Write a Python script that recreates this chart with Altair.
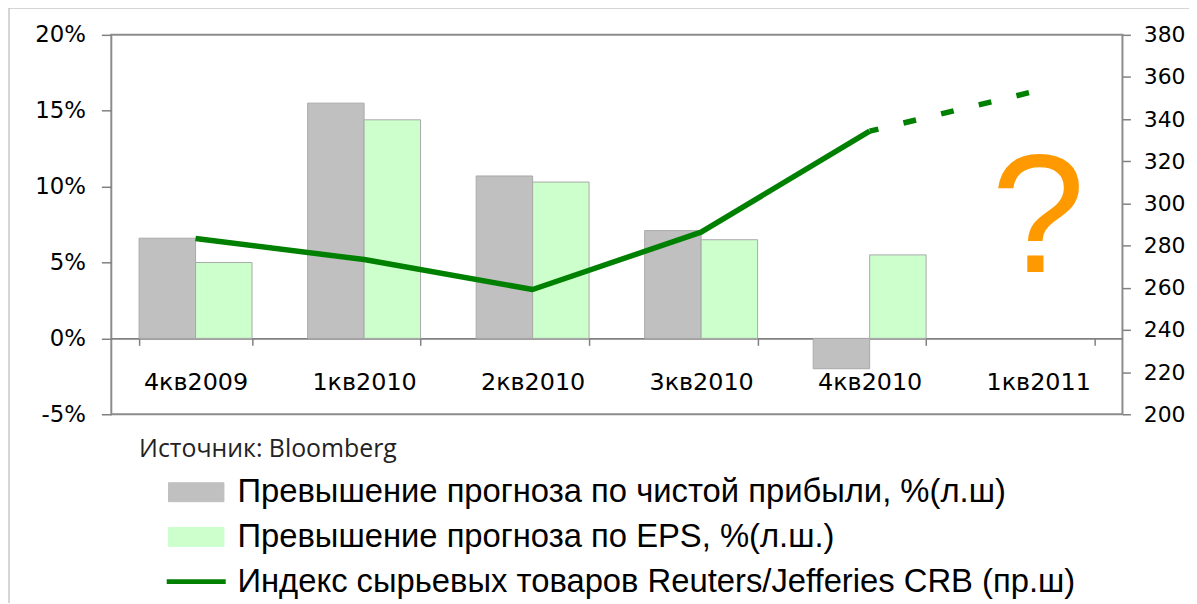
import altair as alt
import pandas as pd

quarters = ["4кв2009", "1кв2010", "2кв2010", "3кв2010", "4кв2010", "1кв2011"]
profit_beat = [6.6, 15.5, 10.7, 7.1, -2.0, None]
eps_beat = [5.0, 14.4, 10.3, 6.5, 5.5, None]
crb_index = [283.4, 273.4, 259.2, 286.4, 334.3, 353.6]

n_profit = "Превышение прогноза по чистой прибыли, %(л.ш)"
n_eps = "Превышение прогноза по EPS, %(л.ш.)"
n_crb = "Индекс сырьевых товаров Reuters/Jefferies CRB (пр.ш)"
source_text = "Источник: Bloomberg"

left_ticks = [-5, 0, 5, 10, 15, 20]
right_ticks = [200, 220, 240, 260, 280, 300, 320, 340, 360, 380]

rows = []
for q, p, e in zip(quarters, profit_beat, eps_beat):
    if p is not None:
        rows.append({"quarter": q, "series": n_profit, "value": p})
    if e is not None:
        rows.append({"quarter": q, "series": n_eps, "value": e})
bars_df = pd.DataFrame(rows)

line_df = pd.DataFrame({"quarter": quarters, "crb": crb_index, "series": [n_crb] * len(quarters)})
solid_df = line_df.iloc[:5]
dash_df = line_df.iloc[4:]

color_scale = alt.Scale(domain=[n_profit, n_eps, n_crb], range=["#C0C0C0", "#CCFFCC", "#008000"])
rect_path = "M-1.55,-0.53L1.55,-0.53L1.55,0.53L-1.55,0.53Z"
legend = alt.Legend(
    orient="none", legendX=69, legendY=444, title=None, direction="vertical",
    symbolSize=1296,
    symbolType=alt.ExprRef("datum.index === 2 ? 'M-1.65,0L1.65,0' : '" + rect_path + "'"),
    symbolStrokeWidth=alt.ExprRef("datum.index === 2 ? 5 : 1"),
    symbolStrokeColor=alt.ExprRef("['#A6A6A6', '#A9C9A9', '#008000'][datum.index]"),
    symbolOpacity=1,
    labelFontSize=33, labelFont="Liberation Sans",
    labelColor="black", labelLimit=1200, labelOffset=25, rowPadding=11, padding=0,
)

x_scale = alt.Scale(domain=quarters, paddingInner=0.33, paddingOuter=0.165)
x_axis = alt.Axis(
    title=None, orient="bottom", offset=-76.4, domain=True, domainColor="#808080", domainWidth=2,
    ticks=True, tickBand="extent", tickSize=7, tickColor="#808080", tickWidth=1.5,
    labelFont="DejaVu Sans", labelFontSize=24, labelColor="black", labelPadding=25, labelAngle=0,
)

bars = alt.Chart(bars_df).mark_bar(strokeWidth=1, stroke="#A8A8A8").encode(
    x=alt.X("quarter:N", scale=x_scale, axis=x_axis, sort=quarters),
    xOffset=alt.XOffset("series:N", sort=[n_profit, n_eps]),
    y=alt.Y("value:Q", scale=alt.Scale(domain=[-5, 20], nice=False, zero=False),
            axis=alt.Axis(title=None, orient="left", values=left_ticks, labelExpr="datum.value + '%'",
                          domain=False, ticks=True, tickSize=10, tickColor="#808080", tickWidth=1.5,
                          labelFont="DejaVu Sans", labelFontSize=23, labelColor="black", labelPadding=16,
                          grid=False)),
    color=alt.Color("series:N", scale=color_scale, legend=legend),
)

qmark = alt.Chart(pd.DataFrame({"a": [0]})).mark_text(
    text="?", font="Liberation Sans", fontSize=170, color="#FF9900", baseline="alphabetic", align="center"
).encode(x=alt.datum("1кв2011"), y=alt.datum(4.4))

source = alt.Chart(pd.DataFrame({"a": [0]})).mark_text(
    text=source_text, font="Open Sans", fontSize=25, color="#222222", align="left", baseline="alphabetic"
).encode(x=alt.value(28), y=alt.value(425))

frame = alt.Chart(pd.DataFrame({"a": [0]})).mark_rect(
    fill="transparent", stroke="#C8C8C8", strokeWidth=1.5
).encode(x=alt.value(-103), x2=alt.value(1100), y=alt.value(-27), y2=alt.value(600))

left = alt.layer(frame, bars, qmark, source)

y_right = alt.Y("crb:Q", scale=alt.Scale(domain=[200, 380], nice=False, zero=False),
                axis=alt.Axis(title=None, orient="right", values=right_ticks, domain=False,
                              ticks=True, tickSize=8, tickColor="#808080", tickWidth=1.5,
                              labelFont="DejaVu Sans", labelFontSize=22, labelColor="black",
                              labelPadding=13, grid=False))

solid = alt.Chart(solid_df).mark_line(strokeWidth=5.5, strokeJoin="round").encode(
    x=alt.X("quarter:N", sort=quarters),
    y=y_right,
    color=alt.Color("series:N", scale=color_scale, legend=legend),
)
dashed = alt.Chart(dash_df).mark_line(strokeWidth=5.5, strokeDash=[13, 26], strokeDashOffset=4, strokeCap="butt").encode(
    x=alt.X("quarter:N", sort=quarters),
    y=y_right,
    color=alt.Color("series:N", scale=color_scale, legend=legend),
)
right = alt.layer(solid, dashed)

chart = alt.layer(left, right).resolve_scale(y="independent").properties(
    width=1018, height=382,
    padding={"left": 104, "top": 25, "right": 67, "bottom": 188},
    autosize=alt.AutoSizeParams(type="none"),
).configure_view(stroke="#8C8C8C", strokeWidth=2).configure_axis(grid=False)

chart.save("out.html", embed_options={"renderer": "svg", "actions": False})
